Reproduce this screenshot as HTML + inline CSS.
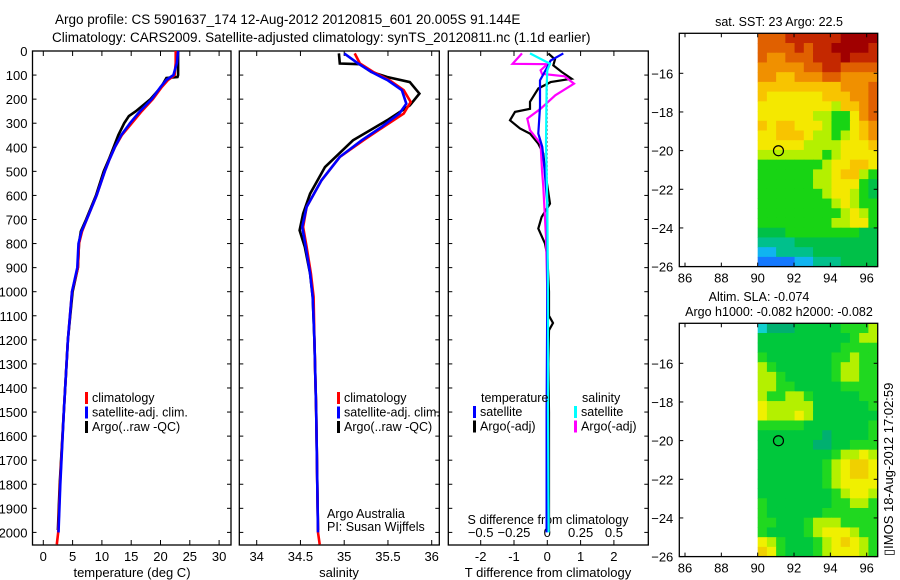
<!DOCTYPE html>
<html><head><meta charset="utf-8"><style>
html,body{margin:0;padding:0;background:#fff;}
svg{display:block;font-family:"Liberation Sans",sans-serif;}
</style></head><body>
<svg id="c" width="900" height="580" viewBox="0 0 900 580">
<text x="55" y="24" font-size="13.5">Argo profile: CS 5901637_174 12-Aug-2012 20120815_601 20.005S 91.144E</text>
<text x="52" y="42" font-size="13.5">Climatology: CARS2009. Satellite-adjusted climatology: synTS_20120811.nc (1.1d earlier)</text>
</svg>
<script>
// ---- data ----
const depthTicks = [0,100,200,300,400,500,600,700,800,900,1000,1100,1200,1300,1400,1500,1600,1700,1800,1900,2000];
const tTicks = [0,5,10,15,20,25,30];
const sTicks = [34,34.5,35,35.5,36];
const sTickLabels = ["34","34.5","35","35.5","36"];
const dtTicks = [-2,-1,0,1,2];
const dsTicks = [-0.5,-0.25,0,0.25,0.5];
const dsTickLabels = ["-0.5","-0.25","0","0.25","0.5"];

const tClimDepth = [0,50,100,110,120,150,200,250,300,350,400,450,500,600,700,750,800,900,1000,1200,1500,1800,2000,2050];
const tClim = [22.6,22.6,22.4,21.9,21.3,20.2,18.7,16.8,15.1,13.4,12.2,11.3,10.5,9.1,7.4,6.6,6.1,5.9,4.9,4.2,3.5,2.85,2.55,2.3];
const tSatDepth = [0,50,100,110,120,150,200,250,300,350,400,450,500,600,700,750,800,900,1000,1200,1500,1800,2000];
const tSat = [23.0,22.8,22.2,21.6,21.0,20.0,18.5,16.5,14.8,13.3,12.2,11.3,10.5,9.1,7.4,6.5,6.0,5.8,4.9,4.2,3.5,2.9,2.6];
const tArgoDepth = [0,50,100,108,112,150,200,250,270,300,350,400,450,500,600,700,750,800,900,1000,1200,1500,1800,1990];
const tArgo = [23.0,23.0,23.0,22.9,21.0,20.1,18.3,15.8,14.6,13.8,12.8,12.0,11.2,10.3,9.0,7.3,6.4,6.1,5.9,5.0,4.2,3.5,2.8,2.5];

const sClimDepth = [10,52,87,122,163,212,260,315,371,440,537,648,731,814,925,1022,1200,1500,2000,2050];
const sClim = [35.12,35.18,35.33,35.52,35.68,35.76,35.68,35.45,35.22,34.95,34.74,34.57,34.53,34.57,34.62,34.65,34.66,34.68,34.70,34.72];
const sSatDepth = [10,52,87,122,163,219,260,315,371,440,537,648,731,814,925,1022,1200,1500,2000];
const sSat = [35.0,35.16,35.31,35.5,35.66,35.71,35.63,35.43,35.2,34.95,34.74,34.57,34.52,34.56,34.61,34.64,34.66,34.68,34.70];
const sArgoDepth = [10,52,55,87,108,129,177,226,288,371,482,593,676,745,814,925,1022,1200,1500,1990];
const sArgo = [34.94,34.95,35.18,35.31,35.49,35.75,35.86,35.75,35.49,35.10,34.78,34.61,34.53,34.49,34.55,34.61,34.64,34.66,34.68,34.70];

const dtArgoDepth = [10,35,60,87,115,129,156,211,240,253,288,322,343,385,426,495,634,690,738,800,850,1000,1100,1130,1160,1300,1500,1800,1990];
const dtArgo = [0.03,0.23,0.18,0.43,0.73,0.1,-0.27,-0.52,-0.52,-0.97,-1.12,-0.82,-0.52,-0.27,-0.12,-0.07,0.08,-0.17,-0.27,-0.07,0,0.05,0.05,0.17,0.05,0.03,0.05,0.05,0.05];
const dtSatDepth = [10,40,67,122,233,343,399,495,634,1000,1500,2000];
const dtSat = [0.48,0.1,0,-0.22,-0.22,-0.27,-0.15,-0.08,0,0,-0.02,-0.02];
const dsArgoDepth = [10,53,55,80,95,105,136,184,240,281,329,385,495,564,772,1000,1500,1990];
const dsArgo = [-0.19,-0.26,0,-0.05,-0.04,0.13,0.2,0.06,-0.05,-0.15,-0.13,-0.05,-0.04,-0.03,-0.01,0,0.005,0.01];
const dsSatDepth = [10,53,80,150,385,634,1000,1500,2000];
const dsSat = [-0.13,0.02,0,-0.005,-0.01,0,0.005,0.005,0.01];

const lonTicks = [86,88,90,92,94,96];
const latTicks = [-16,-18,-20,-22,-24,-26];
const argoLon = 91.144, argoLat = -20.005;
const sstGrid = [
"999AAAAAABBBB","9999A9AABBBBA","988999AAABAAA","8888899AA9999",
"8877888998888","7777777778889","7666666777889","6666666657789",
"6666665544689","7677666544678","6677765545678","6666655556667",
"5555555456666","4444444566776","4444445567754","4444445566643",
"4444444566543","4444444456544","4444444445654","4444444455664",
"3334444444433","2222333333333","1122223333333","0000112223333"];
const slaGrid = [
"1222333334445","3333333333455","3333333334444","4333333344544",
"5433333345544","5543333345544","5544333334444","5445543333344",
"6555553333334","6555653333333","4444433333334","3333333233334",
"3333332233444","3333333345565","3333333456776","3333333456776",
"3333333456666","3333333345665","4333333344554","4333333444444",
"4433345554444","4333345666544","6543334567654","7643334566654"];
const sstColors = ["#1478ff","#10b4f0","#00c08c","#00c048","#18d414","#b4f000","#f4e800","#f8c400","#f09000","#e06000","#c42800","#a00000"];
const slaColors = ["#00a0c0","#10d0d0","#00b070","#00c83c","#20d820","#b4f000","#f0f000","#f0d000"];

// ---- helpers ----
const svg = document.getElementById('c');
const NS = 'http://www.w3.org/2000/svg';
function mk(tag, attrs, parent){const e=document.createElementNS(NS,tag);for(const k in attrs)e.setAttribute(k,attrs[k]);(parent||svg).appendChild(e);return e;}
function txt(x,y,s,anchor,size,parent){const t=mk('text',{x:x,y:y,'font-size':size||13,'text-anchor':anchor||'start'},parent);t.textContent=s;return t;}

const Y0=51, Y1=545;
function yD(d){return Y0 + d*0.2407;}

function box(x0,x1,y0,y1,name){
  const r=mk('rect',{x:x0,y:y0,width:x1-x0,height:y1-y0,fill:'none',stroke:'#000','stroke-width':1.3});
  
  
}
function depthAxis(x0,x1,labels){
  const g=mk('g',{});
  
  
  depthTicks.forEach(d=>{
    const y=yD(d);
    mk('line',{x1:x0,x2:x0+4,y1:y,y2:y,stroke:'#000'},g);
    mk('line',{x1:x1-4,x2:x1,y1:y,y2:y,stroke:'#000'},g);
    if(labels) txt(x0-5,y+5,String(d),'end',13,g);
  });
}
function line(xs,ds,fx,color,name,w){
  const pts=xs.map((v,i)=>fx(v).toFixed(1)+','+yD(ds[i]).toFixed(1)).join(' ');
  const p=mk('polyline',{points:pts,fill:'none',stroke:color,'stroke-width':w||2.6,'stroke-linejoin':'miter'});
  
  
}
function xTicks(vals,labels,fx,yb,yt,labY,name){
  const g=mk('g',{});
  
  
  vals.forEach((v,i)=>{
    const x=fx(v);
    mk('line',{x1:x,x2:x,y1:yb,y2:yb-5,stroke:'#000'},g);
    mk('line',{x1:x,x2:x,y1:yt,y2:yt+5,stroke:'#000'},g);
    txt(x,labY,labels[i],'middle',13,g);
  });
}
function legend(x,y,items,name){
  const g=mk('g',{});
  
  
  items.forEach((it,i)=>{
    const yy=y+i*14.5;
    mk('rect',{x:x,y:yy-10,width:3,height:12,fill:it[0]},g);
    txt(x+7,yy,it[1],'start',12.5,g);
  });
}

// ---- panel 1: temperature ----
const fT = t => 43.3 + t*5.86;
box(32.5,231,Y0,Y1,'temperature-panel');
depthAxis(32.5,231,true);
xTicks(tTicks,tTicks.map(String),fT,Y1,Y0,561,'temperature-x-axis');
txt(132,577,'temperature (deg C)','middle',13);
line(tArgo,tArgoDepth,fT,'#000','temp-argo-line');
line(tClim,tClimDepth,fT,'#ff0000','temp-climatology-line');
line(tSat,tSatDepth,fT,'#0000ff','temp-satellite-line');
legend(85,402,[['#ff0000','climatology'],['#0000ff','satellite-adj. clim.'],['#000','Argo(..raw -QC)']],'temp-legend');

// ---- panel 2: salinity ----
const fS = s => 256.7 + (s-34)*87.5;
box(239.3,439.3,Y0,Y1,'salinity-panel');
depthAxis(239.3,439.3,false);
xTicks(sTicks,sTickLabels,fS,Y1,Y0,561,'salinity-x-axis');
txt(339,577,'salinity','middle',13);
line(sArgo,sArgoDepth,fS,'#000','sal-argo-line');
line(sClim,sClimDepth,fS,'#ff0000','sal-climatology-line');
line(sSat,sSatDepth,fS,'#0000ff','sal-satellite-line');
legend(337,402,[['#ff0000','climatology'],['#0000ff','satellite-adj. clim.'],['#000','Argo(..raw -QC)']],'sal-legend');
txt(327,518,'Argo Australia','start',12.5);
txt(327,531,'PI: Susan Wijffels','start',12.5);

// ---- panel 3: differences ----
const fDT = t => 547.3 + t*33.3;
const fDS = s => 547.3 + s*133.3;
box(448.3,648.3,Y0,Y1,'difference-panel');
depthAxis(448.3,648.3,false);
xTicks(dtTicks,dtTicks.map(String),fDT,Y1,Y0,561,'t-difference-x-axis');
{
  const g=mk('g',{});
  
  
  dsTicks.forEach((v,i)=>{ txt(fDS(v),537,dsTickLabels[i].replace('-','\u2212'),'middle',13,g); });
}
txt(548,524,'S difference from climatology','middle',12.5);
txt(548,577,'T difference from climatology','middle',13);
{
  const zl=mk('line',{x1:fDT(0),x2:fDT(0),y1:yD(60),y2:yD(900),stroke:'#000','stroke-dasharray':'1,3'});
  
  
}
line(dtArgo,dtArgoDepth,fDT,'#000','t-diff-argo-line',2.2);
line(dsArgo,dsArgoDepth,fDS,'#ff00ff','s-diff-argo-line',2.2);
line(dtSat,dtSatDepth,fDT,'#0000ff','t-diff-satellite-line',2.2);
line(dsSat,dsSatDepth,fDS,'#00ffff','s-diff-satellite-line',2.2);
txt(481,402,'temperature','start',12.5);
txt(582,402,'salinity','start',12.5);
legend(473,416,[['#0000ff','satellite'],['#000','Argo(-adj)']],'t-diff-legend');
legend(574,416,[['#00ffff','satellite'],['#ff00ff','Argo(-adj)']],'s-diff-legend');

// ---- maps ----
const MX0=679.3, MX1=877.7;
const fLon = lon => 685 + (lon-86)*18.17;
function drawMap(top,grid,colors,name,gridName){
  const fLat = lat => top + 40 + (-16-lat)*19.33;
  const latTop=-13.93, latBot=-26, lonL=90, lonR=96.6;
  const nr=grid.length, nc=grid[0].length;
  const g=mk('g',{});
  
  
  for(let r=0;r<nr;r++){
    for(let c=0;c<nc;c++){
      const v=parseInt(grid[r][c],16);
      const la0=latTop+(latBot-latTop)*r/nr, la1=latTop+(latBot-latTop)*(r+1)/nr;
      const lo0=lonL+(lonR-lonL)*c/nc, lo1=lonL+(lonR-lonL)*(c+1)/nc;
      const cell=mk('rect',{x:fLon(lo0).toFixed(2),y:fLat(la0).toFixed(2),width:(fLon(lo1)-fLon(lo0)+0.5).toFixed(2),height:(fLat(la1)-fLat(la0)+0.5).toFixed(2),fill:colors[v]},g);
      
      
    }
  }
  const bottom=fLat(-26);
  box(MX0,MX1,top,bottom,name);
  const ax=mk('g',{});
  
  
  lonTicks.forEach(l=>{
    const x=fLon(l);
    mk('line',{x1:x,x2:x,y1:bottom,y2:bottom-4,stroke:'#000'},ax);
    mk('line',{x1:x,x2:x,y1:top,y2:top+4,stroke:'#000'},ax);
    txt(x,bottom+16,String(l),'middle',13,ax);
  });
  latTicks.forEach(l=>{
    const y=fLat(l);
    mk('line',{x1:MX0,x2:MX0+4,y1:y,y2:y,stroke:'#000'},ax);
    mk('line',{x1:MX1-4,x2:MX1,y1:y,y2:y,stroke:'#000'},ax);
    txt(MX0-6,y+5,'\u2212'+String(-l),'end',13,ax);
  });
  const m=mk('circle',{cx:fLon(argoLon),cy:fLat(argoLat),r:5,fill:'none',stroke:'#000','stroke-width':1.2});
  
  
}
drawMap(33.3,sstGrid,sstColors,'sst-map','sst-heatmap');
drawMap(323.3,slaGrid,slaColors,'sla-map','sla-heatmap');
txt(779,26,'sat. SST: 23 Argo: 22.5','middle',12.5);
txt(759,301,'Altim. SLA: -0.074','middle',12.5);
txt(779,316,'Argo h1000: -0.082 h2000: -0.082','middle',12.5);
{
  const t=txt(0,0,'\u25AFIMOS 18-Aug-2012 17:02:59','start',13);
  t.setAttribute('transform','translate(893,556) rotate(-90)');
  
  
}
</script>
</body></html>
